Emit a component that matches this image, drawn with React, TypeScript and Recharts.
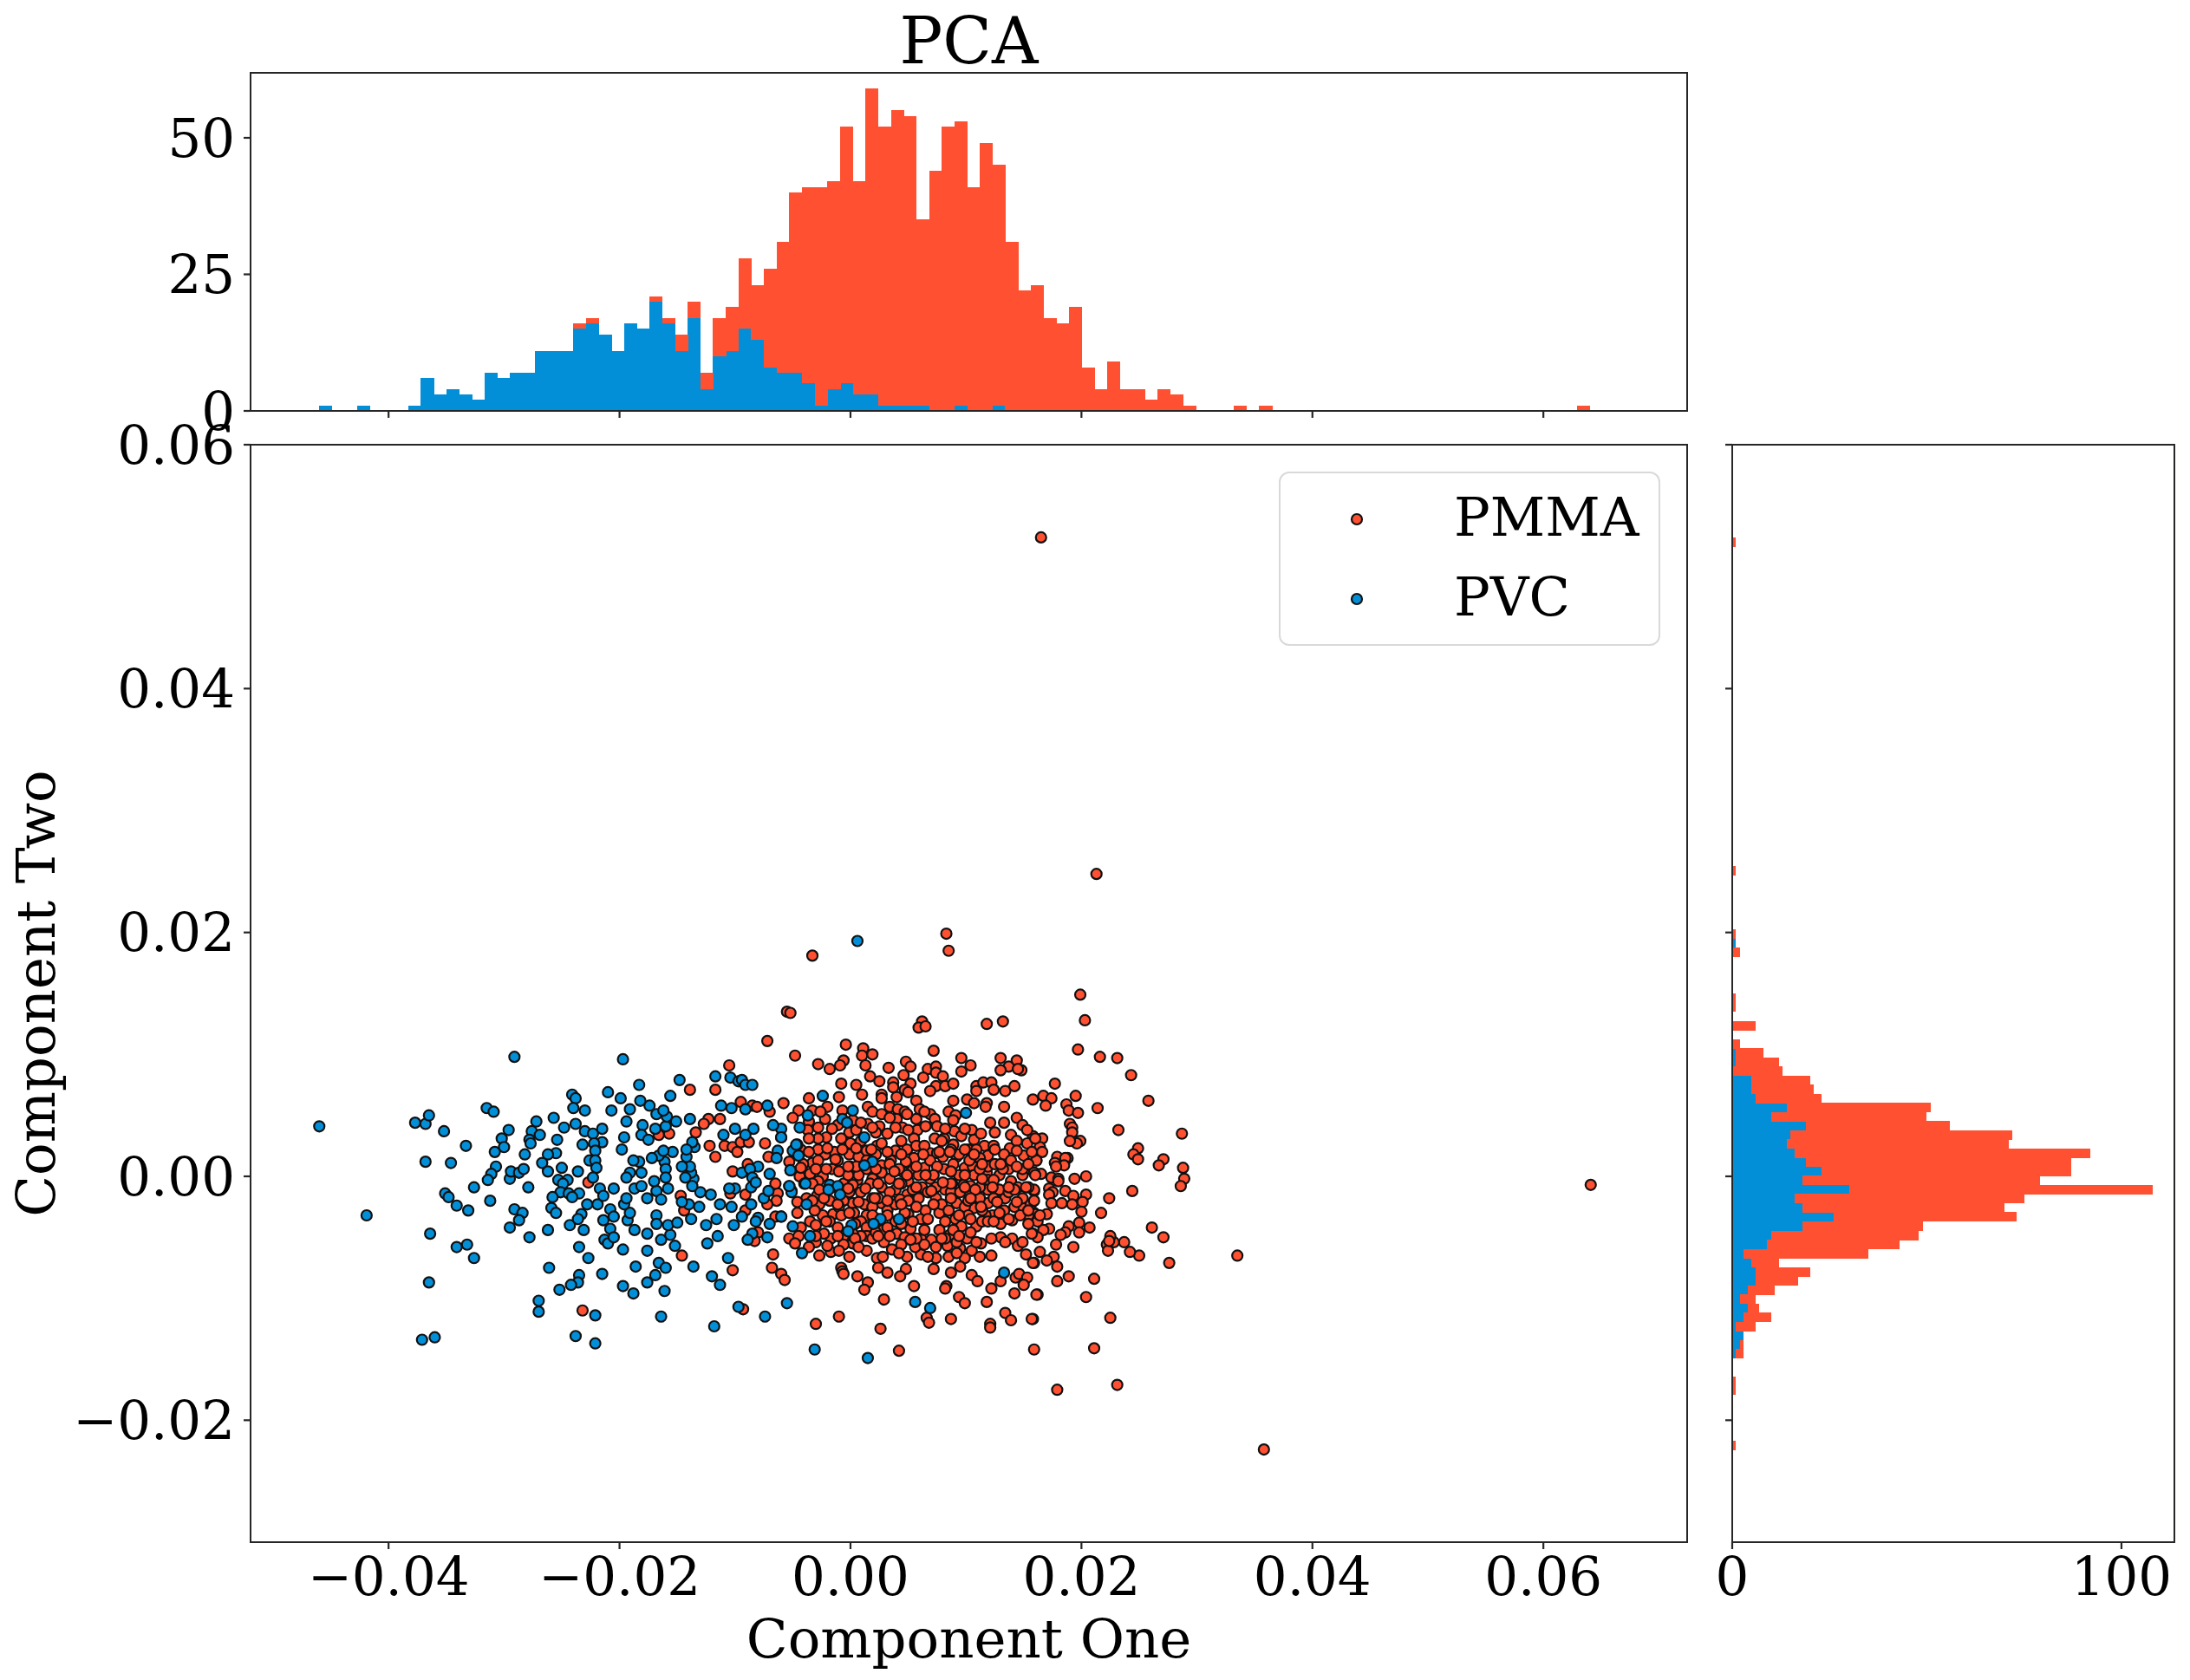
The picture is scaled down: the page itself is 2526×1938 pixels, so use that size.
import { BarChart, Bar, ScatterChart, Scatter, XAxis, YAxis } from 'recharts';

const PMMA_COLOR = '#FF5131';
const PVC_COLOR = '#038FD8';
const SPINE = '#262626';
const FONT = '"DejaVu Serif", serif';
const PAGE_W = 2526;
const PAGE_H = 1938;

const xTicks = [-0.04, -0.02, 0, 0.02, 0.04, 0.06];
const yTicks = [-0.02, 0, 0.02, 0.04, 0.06];
const topCountTicks = [0, 25, 50];
const sideCountTicks = [0, 100];
const xDomain = [-0.05195, 0.07245];
const yDomain = [-0.03, 0.06];

// component one histogram, non-empty bins only
const topCenters = [-0.04545, -0.04215, -0.03775, -0.03665, -0.03555, -0.03445, -0.03335, -0.03225, -0.03115, -0.03005, -0.02895, -0.02785, -0.02675, -0.02565, -0.02455, -0.02345, -0.02235, -0.02125, -0.02015, -0.01905, -0.01795, -0.01685, -0.01575, -0.01465, -0.01355, -0.01245, -0.01135, -0.01025, -0.00915, -0.00805, -0.00695, -0.00585, -0.00475, -0.00365, -0.00255, -0.00145, -0.00035, 0.00075, 0.00185, 0.00295, 0.00405, 0.00515, 0.00625, 0.00735, 0.00845, 0.00955, 0.01065, 0.01175, 0.01285, 0.01395, 0.01505, 0.01615, 0.01725, 0.01835, 0.01945, 0.02055, 0.02165, 0.02275, 0.02385, 0.02495, 0.02605, 0.02715, 0.02825, 0.02935, 0.03375, 0.03595, 0.06345];
const topPvc = [1, 1, 1, 6, 3, 4, 3, 2, 7, 6, 7, 7, 11, 11, 11, 15, 16, 14, 11, 16, 15, 20, 16, 11, 17, 4, 10, 11, 15, 13, 8, 7, 7, 5, 1, 4, 5, 3, 3, 1, 1, 1, 1, 0, 0, 1, 0, 0, 1, 0, 0, 0, 0, 0, 0, 0, 0, 0, 0, 0, 0, 0, 0, 0, 0, 0, 0];
const topPmma = [0, 0, 0, 0, 0, 0, 0, 0, 0, 0, 0, 0, 0, 0, 0, 1, 1, 0, 0, 0, 0, 1, 1, 3, 3, 3, 7, 8, 13, 10, 18, 24, 33, 36, 40, 38, 47, 39, 56, 51, 54, 53, 34, 44, 52, 52, 41, 49, 44, 31, 22, 23, 17, 16, 19, 8, 4, 9, 4, 4, 2, 4, 3, 1, 1, 1, 1];

// component two histogram, non-empty bins only
const sideCenters = [0.05203, 0.025102, 0.019866, 0.019118, 0.01837, 0.01463, 0.013882, 0.012386, 0.01089, 0.010142, 0.009394, 0.008646, 0.007898, 0.00715, 0.006402, 0.005654, 0.004906, 0.004158, 0.00341, 0.002662, 0.001914, 0.001166, 0.000418, -0.00033, -0.001078, -0.001826, -0.002574, -0.003322, -0.00407, -0.004818, -0.005566, -0.006314, -0.007062, -0.00781, -0.008558, -0.009306, -0.010054, -0.010802, -0.01155, -0.012298, -0.013046, -0.013794, -0.014542, -0.016786, -0.017534, -0.022022];
const sidePvc = [0, 0, 0, 1, 0, 0, 0, 0, 0, 1, 1, 0, 5, 5, 6, 14, 10, 19, 15, 14, 16, 19, 23, 18, 30, 16, 18, 26, 18, 10, 9, 3, 5, 6, 6, 4, 2, 4, 3, 1, 3, 2, 1, 0, 0, 0];
const sidePmma = [1, 1, 1, 0, 2, 1, 1, 6, 2, 7, 11, 13, 15, 16, 17, 37, 40, 37, 57, 57, 76, 68, 64, 61, 78, 59, 52, 47, 31, 38, 34, 32, 7, 14, 11, 7, 4, 3, 7, 5, 0, 1, 2, 1, 1, 1];

const pmmaPoints = [
  [0.0165, 0.0524], [0.0213, 0.0248], [0.0083, 0.0199], [0.0085, 0.0185], [-0.0033, 0.0181], [-0.0055, 0.0135], [0.0199, 0.0149], [0.0358, -0.0224], [0.0641, -0.0007],
  [0.0179, -0.0175], [0.0231, -0.0171], [0.0159, -0.0142], [0.0211, -0.0141], [0.0042, -0.0143],
  [0.0203, 0.0128], [0.0197, 0.0104], [0.0216, 0.0098], [0.0231, 0.0097], [0.0243, 0.0083], [0.0258, 0.0062], [0.0177, 0.0076], [0.0167, 0.0066], [0.0174, 0.0064], [0.0158, 0.0063], [0.0169, 0.0058], [0.0195, 0.0066], [0.0187, 0.0059], [0.0189, 0.0054], [0.0197, 0.0052], [0.0214, 0.0056],
  [0.019, 0.0043], [0.0192, 0.004], [0.0192, 0.0036], [0.0199, 0.0029], [0.0196, 0.0027], [0.019, 0.0029], [0.0232, 0.0038], [0.0287, 0.0035], [0.0249, 0.0023], [0.0245, 0.0018], [0.0249, 0.0014], [0.0271, 0.0014], [0.0267, 0.0009], [0.0288, 0.0007], [0.0289, -0.0002], [0.0286, -0.0008], [0.0244, -0.0012], [0.0224, -0.0018], [0.0217, -0.003], [0.0261, -0.0042], [0.0271, -0.005], [0.0276, -0.0071], [0.025, -0.0065], [0.0242, -0.0062], [0.0237, -0.0054], [0.0228, -0.0054], [0.0225, -0.0049], [0.0222, -0.0056], [0.0223, -0.0061], [0.0224, -0.0053], [0.0335, -0.0065], [0.0211, -0.0084], [0.0204, -0.0099], [0.0225, -0.0116], [0.0189, -0.0082], [0.0179, -0.0086], [0.0162, -0.0097], [0.0158, -0.0117],
  [0.0166, 0.0031], [0.0158, 0.0033], [0.0164, 0.0024], [0.0166, 0.002], [0.0161, 0.0013], [0.0179, 0.0016], [0.0188, 0.0015], [0.0186, 0.0015], [0.0177, 0.0011], [0.0185, 0.0009], [0.0178, 0.0008], [0.0159, 0.0003], [0.0165, 0.0002], [0.0174, -0.0001], [0.018, -0.0002], [0.018, -0.0004], [0.0194, -0.0002], [0.0204, 0], [0.0159, -0.0012], [0.0172, -0.001], [0.0175, -0.0013], [0.0172, -0.0015], [0.0186, -0.0012], [0.0193, -0.0016], [0.0204, -0.0015], [0.0174, -0.0022], [0.0183, -0.0022], [0.0192, -0.0023], [0.0201, -0.0021], [0.02, -0.0029], [0.017, -0.0031], [0.0162, -0.0034], [0.0159, -0.003], [0.0198, -0.0038], [0.0189, -0.0041], [0.0207, -0.0042], [0.0198, -0.0046], [0.0186, -0.0046], [0.0182, -0.0048], [0.0172, -0.0043], [0.0167, -0.0044], [0.0158, -0.0047], [0.0162, -0.005], [0.0178, -0.0056], [0.0193, -0.0058], [0.0164, -0.0062], [0.0176, -0.0066], [0.017, -0.0069], [0.0159, -0.0071], [0.0179, -0.0074],
  [-0.0052, 0.0134], [0.0062, 0.0127], [0.0059, 0.0122], [0.0065, 0.0123], [0.0118, 0.0125], [0.0132, 0.0127], [-0.0004, 0.0108], [0.0011, 0.0105], [0.001, 0.0099], [0.0019, 0.01], [0.0072, 0.0103], [-0.0048, 0.0099], [-0.0028, 0.0092], [-0.0018, 0.0088], [-0.0006, 0.0095], [-0.0009, 0.0091], [0.0013, 0.0091], [0.0017, 0.0082], [0.0025, 0.0078], [0.0033, 0.0089], [0.0048, 0.0094], [0.0052, 0.009], [0.0046, 0.0083], [0.0037, 0.0077], [0.0037, 0.0073], [0.0052, 0.0076], [0.0047, 0.0071], [0.005, 0.0069], [0.004, 0.0065], [0.0067, 0.0088], [0.0074, 0.009], [0.0074, 0.0085], [0.0063, 0.0081], [0.008, 0.0082], [0.0074, 0.0074], [0.0069, 0.007], [0.0082, 0.0074], [0.0089, 0.0076], [0.0096, 0.0097], [0.0104, 0.0091], [0.0096, 0.0086], [0.013, 0.0097], [0.0144, 0.0095], [0.0137, 0.009], [0.013, 0.0087], [0.0148, 0.0087], [0.0145, 0.0088],
  [-0.0008, 0.0076], [0.0005, 0.0075], [0.001, 0.0067], [0.0027, 0.0067], [0.0027, 0.0064], [-0.0036, 0.0064], [-0.001, 0.0065], [-0.0058, 0.006], [0.0057, 0.0062], [0.0109, 0.0074], [0.0109, 0.007], [0.0115, 0.0077], [0.0122, 0.0077], [0.0124, 0.0071], [0.0134, 0.007], [0.0142, 0.0074], [0.0089, 0.0062], [0.0101, 0.0063], [0.0107, 0.006], [0.0118, 0.006], [0.0117, 0.0057], [0.0133, 0.0057], [0.0015, 0.0057], [0.0019, 0.0053], [0.0034, 0.0057], [0.0041, 0.0055], [0.0047, 0.0053], [0.006, 0.0055], [0.0057, 0.0047], [0.004, 0.0047], [0.0027, 0.0051], [0.0069, 0.0051], [0.0073, 0.0047], [0.0075, 0.0041], [0.0085, 0.0053], [0.0091, 0.005], [0.0089, 0.0046],
  [-0.002, 0.0057], [-0.0007, 0.0054], [-0.0045, 0.0054], [-0.0033, 0.0054], [-0.005, 0.0048], [-0.0022, 0.0047], [-0.0036, 0.0045], [-0.0011, 0.0042], [0.0015, 0.0043], [0.0025, 0.0041], [0.0045, 0.004], [0.0058, 0.0038], [0.0032, 0.0035], [-0.0001, 0.0036], [-0.0037, 0.0038], [-0.0021, 0.0032], [-0.0028, 0.0031], [-0.0036, 0.0031], [-0.0008, 0.0031], [0, 0.0027], [0.0023, 0.0025], [0.0044, 0.0029], [0.0055, 0.0031], [0.0073, 0.0031], [0.0081, 0.0031], [0.009, 0.0037], [0.0096, 0.0033], [0.0105, 0.0038], [0.0107, 0.003], [0.0121, 0.0044], [0.0125, 0.0036], [0.0133, 0.0044], [0.0144, 0.0048], [0.0149, 0.0042], [0.0153, 0.0038], [0.0153, 0.0027], [0.016, 0.0031],
  [0.0089, 0.0026], [0.0102, 0.0022], [0.0116, 0.0025], [0.0124, 0.0025], [0.0138, 0.0023], [0.0133, 0.0018], [0.015, 0.0017], [0.0161, 0.0013], [0.0119, 0.0017], [0.0092, 0.0016], [0.0069, 0.0019], [0.0075, 0.0019], [0.008, 0.0016], [0.0049, 0.0022], [0.0039, 0.0021], [0.0055, 0.0015], [0.0048, 0.0012], [0.0035, 0.0013], [0.0027, 0.0009], [-0.0001, 0.0018], [-0.0014, 0.002], [-0.0022, 0.0018], [-0.0033, 0.0011], [-0.0011, 0.0013], [0, 0.0008], [-0.0016, 0.0006], [-0.0035, 0.0002], [-0.0024, 0], [-0.0053, 0.0012], [-0.0044, 0],
  [0.0006, -0.0003], [0.0019, -0.0002], [0.0027, 0.0003], [0.0034, -0.0002], [0.0045, 0.0004], [0.0054, 0.0005], [0.0064, 0.0007], [0.0081, 0.0006], [0.0069, -0.0002], [0.005, -0.0004], [0.0027, -0.0009], [0.0009, -0.0013], [-0.0001, -0.0013], [-0.0029, -0.0016], [-0.0018, -0.002], [-0.0038, -0.0018], [0.0002, -0.0022], [0.0012, -0.0023], [0.0027, -0.0022], [0.0035, -0.002], [0.0049, -0.0015], [0.0039, -0.0011], [0.0058, -0.0017], [0.0062, -0.0009], [0.0074, -0.0018], [0.0082, -0.0011], [0.0088, -0.0006], [0.0091, -0.0015], [0.0092, -0.0022], [0.0098, -0.0007], [0.0104, -0.0008], [0.0099, 0.0007], [0.0106, 0.0008], [0.0118, 0.0003], [0.0119, -0.0003], [0.0129, 0.0001], [0.0137, 0.0006], [0.0139, -0.0004], [0.0145, -0.0009], [0.0149, 0.0001], [0.0159, 0.0003], [0.0159, -0.0011], [0.0119, -0.0011], [0.0127, -0.0011], [0.013, -0.0017], [0.0119, -0.0022], [0.0107, -0.0026], [0.0099, -0.0025], [0.0142, -0.0025], [0.015, -0.0026], [0.0156, -0.0023], [0.016, -0.0031], [0.0133, -0.0028], [0.0123, -0.0032], [0.0117, -0.0032], [0.014, -0.0036], [0.0091, -0.0035], [0.0096, -0.0041], [0.0077, -0.003], [0.0061, -0.0035], [0.005, -0.0031], [0.0032, -0.0028], [0.0014, -0.0032], [-0.0015, -0.0031], [-0.0024, -0.0032], [-0.0046, -0.003], [-0.0035, -0.0037], [-0.003, -0.004], [-0.0043, -0.0042], [-0.0018, -0.0037], [0.0009, -0.0037], [0.0014, -0.0042], [0.0028, -0.0044], [0.0052, -0.0043], [0.004, -0.0047], [0.0047, -0.005], [0.0061, -0.0051], [0.007, -0.0052], [0.0086, -0.0048], [0.0101, -0.0051], [0.0109, -0.0041], [0.0114, -0.0037], [0.013, -0.0039], [0.013, -0.005], [0.014, -0.0051], [0.0157, -0.0047], [0.0162, -0.0037], [0.0145, -0.0057], [0.0152, -0.0064], [0.0158, -0.0071], [0.0122, -0.0065], [0.0113, -0.0055], [0.0105, -0.0061], [0.0095, -0.0059], [0.0099, -0.0067], [0.0095, -0.0074], [0.0087, -0.0079], [0.0084, -0.0057], [0.0085, -0.0066], [0.0074, -0.0067], [0.0072, -0.0076], [0.0061, -0.0064], [0.0056, -0.0058], [0.0049, -0.0066], [0.0036, -0.006], [0.0023, -0.0067], [0.0014, -0.0061], [0.0002, -0.0055], [-0.0001, -0.0066], [0.0014, -0.0049], [-0.0006, -0.0049], [-0.0017, -0.0051], [-0.0017, -0.0062], [-0.002, -0.0057], [-0.0027, -0.0065], [-0.003, -0.0054], [-0.0053, -0.0051], [-0.0045, -0.0049], [-0.0048, -0.0055], [-0.0036, -0.0058],
  [0.0024, -0.0075], [0.0032, -0.0079], [0.0048, -0.0076], [0.0043, -0.0082], [-0.0008, -0.0075], [-0.0007, -0.0078], [-0.0006, -0.008], [0.0006, -0.0082], [0.0015, -0.0087], [0.0012, -0.0093], [0.0055, -0.009], [0.0029, -0.0101], [-0.006, -0.008], [-0.0057, -0.0085], [0.0105, -0.0081], [0.011, -0.0086], [0.0122, -0.0092], [0.013, -0.0086], [0.0143, -0.0083], [0.0146, -0.008], [0.0153, -0.0083], [0.015, -0.0089], [0.0142, -0.0096], [0.0161, -0.0097], [0.0083, -0.009], [0.0082, -0.0092], [0.0094, -0.0099], [0.0099, -0.0104], [0.0118, -0.0103], [-0.001, -0.0115], [-0.003, -0.0121], [0.0026, -0.0125], [0.0066, -0.0116], [0.0068, -0.012], [0.0087, -0.0117], [0.0121, -0.0121], [0.0121, -0.0124], [0.0134, -0.0112], [0.0139, -0.0118], [0.0157, -0.0117],
  [0.0022, 0.0018], [0.0014, 0.0021], [0.0007, 0.0016], [-0.0013, 0.0014], [0.0014, 0.0006], [0.0007, 0.0001], [-0.0006, -0.0006], [0.0002, -0.0007], [0.0017, -0.0006], [0.0034, -0.0013], [0.0044, -0.0006], [0.0019, -0.0018], [-0.0006, -0.002], [0.0024, -0.0018], [0.0039, -0.0023], [0.0059, -0.0018], [0.0074, -0.0009], [0.0087, -0.0013], [0.0079, -0.0023], [0.0102, -0.0013], [0.0112, -0.0009], [0.0112, -0.0018], [0.0119, 0.0008], [0.0112, 0.0015], [0.0094, 0.0001], [0.0067, -0.0013], [0.0054, -0.0011], [0.0047, -0.003], [0.0039, -0.0037], [0.0024, -0.0035], [0.0004, -0.0039], [-0.0016, -0.0009], [-0.0028, -0.0004], [-0.0043, 0.0022], [-0.0028, 0.0022], [-0.0041, 0.001], [-0.0028, 0.0013], [0.0089, 0.001], [0.0077, 0.002], [0.0057, 0.0025], [0.0027, 0.0027], [0.0009, 0.0029], [0.0039, 0.004], [0.0022, 0.0036], [0.0064, 0.0025], [0.0079, 0.0029], [0.0094, 0.0018], [0.0109, 0.0022], [0.0139, 0.0013], [0.0149, 0.0006], [0.0154, 0.001], [0.0129, -0.0011], [0.0134, -0.0018], [0.0149, -0.0018], [0.0154, -0.0032], [0.0147, -0.0032], [0.0129, -0.003], [0.0114, -0.0028], [0.0102, -0.0032], [0.0082, -0.0037], [0.0089, -0.0044], [0.0082, -0.0051], [0.0074, -0.0058], [0.0064, -0.0056], [0.0057, -0.0051], [0.0044, -0.0056], [0.0029, -0.0054], [0.0019, -0.0051], [0.0009, -0.0049], [0.0002, -0.0047], [-0.0006, -0.0056], [-0.0023, -0.0047],
  [0.0069, 0.0013], [0.0075, 0.0008], [0.0087, 0.0022], [0.0103, 0.0013], [0.0107, 0.0001], [0.0114, -0.0002], [0.0125, 0.001], [0.0132, 0.0006], [0.0124, -0.0003], [0.0112, 0.0006], [0.0095, -0.0013], [0.0087, -0.0006], [0.0072, 0.0001], [0.0059, 0.0001], [0.0042, 0.0006], [0.0034, 0.001], [0.0014, 0.0013], [0.0005, 0.0008], [-0.0002, 0.0001], [-0.001, 0.0004], [-0.0021, 0.0006], [-0.0033, -0.0006], [-0.0027, -0.0023], [-0.0031, -0.0028], [-0.001, -0.0025], [0.0003, -0.003], [0.0019, -0.0025], [0.0032, -0.002], [0.0043, -0.0019], [0.005, -0.002], [0.0065, -0.0028], [0.0085, -0.0028], [0.0102, -0.002], [0.0124, -0.0018], [0.0137, -0.0013], [0.0142, -0.0011], [0.0154, -0.0009], [0.0159, -0.002], [0.0164, -0.0032], [0.0119, -0.0037], [0.0104, -0.0046], [0.0092, -0.0054], [0.0077, -0.0044], [0.0064, -0.0044], [0.0044, -0.0039], [0.0032, -0.0042], [0.0022, -0.0046], [0.0004, -0.0051], [-0.0011, -0.0042], [-0.0021, -0.0037], [-0.0033, -0.002],
  [-0.0028, 0.004], [-0.0016, 0.0039], [0.0005, 0.0038], [0.0019, 0.004], [0.005, 0.0038], [0.0065, 0.0041], [0.0082, 0.0039], [0.0099, 0.0039], [0.0113, 0.0035], [0.0139, 0.0034], [0.0144, 0.0029], [-0.0036, 0.002], [-0.002, 0.0023], [-0.0007, 0.0022], [0.0005, 0.0023], [0.0018, 0.0022], [0.0032, 0.002], [0.0044, 0.0018], [0.0063, 0.0018], [0.0086, 0.002], [0.0099, 0.0022], [0.0107, 0.0018], [0.0125, 0.0022], [0.0144, 0.0021], [0.0157, 0.002],
  [-0.0043, 0.0007], [-0.003, 0.0006], [-0.0002, 0.0008], [0.0022, 0.0006], [0.0038, 0.0004], [0.0049, 0.0001], [0.0057, 0.0008], [0.0065, 0.0001], [0.0087, 0.0004], [0.0099, 0.0001], [0.0114, 0.001], [0.013, 0.001], [0.0144, 0.0008], [0.016, 0.0001], [-0.0027, -0.0011], [-0.0002, -0.001], [0.0013, -0.001], [0.0024, -0.0006], [0.0042, -0.0006], [0.0057, -0.0009], [0.007, -0.0012], [0.008, -0.0005], [0.0099, -0.0009], [0.0108, -0.0011], [0.0123, -0.0009], [0.0137, -0.0009], [0.0152, -0.0009],
  [-0.0046, -0.0021], [-0.0023, -0.0018], [-0.0011, -0.0023], [0.0007, -0.0021], [0.0021, -0.0018], [0.0044, -0.0023], [0.0057, -0.0025], [0.0072, -0.0023], [0.0087, -0.0018], [0.0104, -0.0018], [0.0113, -0.0025], [0.0127, -0.0021], [0.0144, -0.0021], [0.0154, -0.0028], [-0.0008, -0.0032], [-0.0001, -0.003], [0.0019, -0.0032], [0.0032, -0.0032], [0.0054, -0.0037], [0.0067, -0.0035], [0.0094, -0.0032], [0.0104, -0.0035], [0.0124, -0.0037], [0.0137, -0.0035], [0.0154, -0.0039],
  [-0.003, -0.0049], [-0.0011, -0.0049], [0.0024, -0.0049], [0.0034, -0.0049], [0.0052, -0.0052], [0.0079, -0.0051], [0.0094, -0.0049], [0.0109, -0.0054], [0.0122, -0.0051], [0.0134, -0.0054], [0.0149, -0.0054], [-0.001, -0.0061], [0.0007, -0.0058], [0.0028, -0.0066], [0.0042, -0.0063], [0.0067, -0.0066], [0.0092, -0.0063], [0.0112, -0.0066], [-0.0026, 0.0053], [0.0002, 0.0046], [0.0009, 0.0044], [0.0034, 0.0048], [0.0049, 0.0051], [0.0064, 0.0053],
  [-0.0072, 0.0111], [-0.0105, 0.0091], [-0.0139, 0.0071], [-0.0117, 0.0071], [-0.0095, 0.0061], [-0.0085, 0.0058], [-0.0081, 0.0057], [-0.007, 0.0053], [-0.0113, 0.0047], [-0.0123, 0.0047], [-0.0127, 0.0043], [-0.0134, 0.0036], [-0.0157, 0.0035], [-0.0166, 0.0034], [-0.0122, 0.0025], [-0.0109, 0.0025], [-0.0102, 0.0024], [-0.0098, 0.002], [-0.0117, 0.0016], [-0.0095, 0.0028], [-0.0088, 0.0028], [-0.0074, 0.0027], [-0.0071, 0.0016], [-0.0089, 0.001], [-0.0102, 0.0004], [-0.0227, -0.0005], [-0.0147, -0.0016], [-0.0144, -0.0028], [-0.0146, -0.0065], [-0.0104, -0.0014], [-0.0091, -0.0015], [-0.0063, -0.0014], [-0.0065, -0.0006], [-0.0064, -0.002], [-0.0072, -0.0023], [-0.0091, -0.0028], [-0.0065, -0.0033], [-0.008, -0.0046], [-0.0083, -0.0053], [-0.0067, -0.0064], [-0.0068, -0.0075], [-0.0102, -0.0077], [-0.0232, -0.011], [-0.0093, -0.0109],
];

const pvcPoints = [
  [-0.0024, 0.0066], [-0.0037, 0.005], [0.0002, 0.0054], [-0.0007, 0.0047], [-0.0003, 0.0044], [-0.0044, 0.004], [-0.006, 0.0039], [-0.006, 0.0032], [0.0012, 0.0032], [-0.0046, 0.0026], [-0.005, 0.0021], [-0.0045, 0.0017], [0.01, 0.0052], [0.0019, 0.0012], [0.0012, 0.0009], [-0.0052, 0.0005], [-0.004, -0.0006], [-0.0053, -0.0008], [-0.0051, -0.0012], [-0.0018, -0.0007], [-0.0011, -0.0008], [-0.0019, -0.0011], [-0.0009, -0.0015], [-0.0038, -0.0023], [-0.006, -0.0033], [0.0042, -0.0035], [0.0026, -0.0035], [0.002, -0.0039], [0.0001, -0.004], [-0.0002, -0.0045], [-0.005, -0.0041], [-0.0035, -0.0049], [-0.0042, -0.0063], [-0.0055, -0.0104], [0.0056, -0.0103], [0.0069, -0.0108], [0.0133, -0.0079], [-0.0031, -0.0142], [0.0015, -0.0149], [0.0006, 0.0193],
  [-0.046, 0.0041], [-0.0419, -0.0032], [-0.0377, 0.0044], [-0.0368, 0.0043], [-0.0365, 0.005], [-0.0352, 0.0037], [-0.0333, 0.0025], [-0.0368, 0.0012], [-0.0346, 0.0011], [-0.0364, -0.0047], [-0.0365, -0.0087], [-0.0371, -0.0134], [-0.036, -0.0132], [-0.0341, -0.0058], [-0.0332, -0.0056], [-0.0326, -0.0067], [-0.0351, -0.0014], [-0.0348, -0.0017], [-0.0341, -0.0024], [-0.0331, -0.0028], [-0.0326, -0.0009], [-0.0312, -0.002], [-0.0315, 0.0056], [-0.0309, 0.0053], [-0.0291, 0.0098], [-0.0197, 0.0096],
  [-0.0296, 0.0038], [-0.0302, 0.0031], [-0.03, 0.0024], [-0.0308, 0.002], [-0.0282, 0.0018], [-0.0307, 0.0008], [-0.0311, 0.0002], [-0.0314, -0.0003], [-0.0295, -0.0002], [-0.0294, 0.0004], [-0.0287, 0.0003], [-0.0283, 0.0006], [-0.0279, -0.0009], [-0.0291, -0.0027], [-0.0284, -0.003], [-0.0287, -0.0036], [-0.0295, -0.0042], [-0.0278, -0.005], [-0.0262, -0.0044], [-0.0243, -0.004], [-0.0231, -0.0044], [-0.0235, -0.0058], [-0.0227, -0.0067], [-0.0261, -0.0075], [-0.0235, -0.0081], [-0.0236, -0.0087], [-0.0242, -0.0089], [-0.0252, -0.0093], [-0.0215, -0.008], [-0.0197, -0.009], [-0.0188, -0.0096], [-0.0186, -0.0074], [-0.0176, -0.0087], [-0.0169, -0.0081], [-0.0166, -0.0071], [-0.016, -0.0075], [-0.0161, -0.0094], [-0.0136, -0.0074], [-0.012, -0.0082], [-0.0113, -0.0089], [-0.0106, -0.0067], [-0.027, -0.0102], [-0.027, -0.0111], [-0.0221, -0.0114], [-0.0238, -0.0131], [-0.0221, -0.0137], [-0.0164, -0.0115], [-0.0118, -0.0123], [-0.0097, -0.0107], [-0.0074, -0.0115],
  [-0.0272, 0.0045], [-0.0257, 0.0048], [-0.0248, 0.004], [-0.0238, 0.0043], [-0.023, 0.0037], [-0.0223, 0.0035], [-0.0215, 0.0039], [-0.0215, 0.0028], [-0.0222, 0.0027], [-0.0232, 0.0026], [-0.0254, 0.003], [-0.0276, 0.0037], [-0.0269, 0.0034], [-0.0278, 0.003], [-0.0277, 0.0027], [-0.0255, 0.0019], [-0.0262, 0.0018], [-0.0267, 0.0011], [-0.0262, 0.0004], [-0.025, 0.0007], [-0.0236, 0.0004], [-0.0221, 0.0021], [-0.0226, 0.0013], [-0.0221, 0.0013], [-0.022, 0.0007], [-0.0223, -0.0001], [-0.0253, -0.0003], [-0.0245, -0.0003], [-0.0249, -0.0006], [-0.0251, -0.0013], [-0.0258, -0.0017], [-0.0244, -0.0014], [-0.0235, -0.0014], [-0.0241, -0.0017], [-0.0259, -0.0026], [-0.0255, -0.003], [-0.0228, -0.0023], [-0.0219, -0.0023], [-0.0217, -0.001], [-0.0205, -0.001], [-0.0214, -0.0016], [-0.0233, -0.0031], [-0.0236, -0.0035], [-0.0214, -0.0036], [-0.0208, -0.0027], [-0.0205, -0.0033], [-0.0208, -0.0043], [-0.0213, -0.0052], [-0.021, -0.0055], [-0.0205, -0.005], [-0.0197, -0.006], [-0.0187, -0.0044], [-0.0193, -0.0036], [-0.0191, -0.003], [-0.0196, -0.0023], [-0.0194, -0.0018], [-0.0187, -0.001], [-0.0181, -0.0008], [-0.0176, -0.0018], [-0.0168, -0.0012], [-0.017, -0.0004], [-0.0158, -0.001], [-0.0164, -0.0019], [-0.0168, -0.0032], [-0.0168, -0.0039], [-0.0176, -0.0047], [-0.0164, -0.0052], [-0.0176, -0.0061], [-0.0152, -0.0057], [-0.0156, -0.0048], [-0.0158, -0.004], [-0.015, -0.0038], [-0.0138, -0.0035], [-0.0125, -0.004], [-0.0116, -0.0035], [-0.0115, -0.0049], [-0.0124, -0.0055], [-0.0094, -0.0033], [-0.0101, -0.004], [-0.008, -0.0034], [-0.0082, -0.0037], [-0.007, -0.0039], [-0.006, -0.0033], [-0.0085, -0.0047], [-0.0089, -0.0052], [-0.0072, -0.005],
  [-0.014, -0.0023], [-0.0146, -0.0021], [-0.0131, -0.0025], [-0.013, -0.0013], [-0.0121, -0.0015], [-0.0113, -0.0023], [-0.0103, -0.0025], [-0.0086, -0.0023], [-0.0075, -0.0018], [-0.0071, -0.0012], [-0.0086, -0.0009], [-0.01, -0.001], [-0.0105, -0.001], [-0.0094, 0.0003], [-0.008, 0.0008], [-0.0087, 0.0006], [-0.0085, -0.0001], [-0.0082, -0.0005], [-0.007, 0.0002], [-0.0136, -0.0002], [-0.0138, 0.0003], [-0.0139, 0.0008], [-0.0146, 0.0008], [-0.0142, 0.0016], [-0.0143, -0.0001], [-0.0137, -0.0008], [-0.0154, 0.002], [-0.0161, 0.0012], [-0.0166, 0.0017], [-0.0172, 0.0015], [-0.0162, 0.0021], [-0.016, 0.0006], [-0.016, -0.0001], [-0.0183, 0.0012], [-0.0188, 0.0013], [-0.0181, 0.0003], [-0.0191, 0.0003], [-0.0194, -0.0001], [-0.0198, 0.0022], [-0.0196, 0.0032], [-0.0194, 0.0045], [-0.018, 0.0042], [-0.0181, 0.0034], [-0.0175, 0.003], [-0.0169, 0.0039], [-0.016, 0.0041], [-0.0159, 0.0049], [-0.0168, 0.0051], [-0.0162, 0.0054], [-0.0151, 0.0045], [-0.0139, 0.0047], [-0.0174, 0.0058], [-0.0182, 0.0062], [-0.0191, 0.0055], [-0.0207, 0.0054], [-0.0199, 0.0064], [-0.021, 0.0069], [-0.0183, 0.0075], [-0.0156, 0.0066], [-0.0148, 0.0079], [-0.0241, 0.0067], [-0.0238, 0.0064], [-0.024, 0.0056], [-0.023, 0.0054], [-0.0117, 0.0082], [-0.0104, 0.0081], [-0.0097, 0.0078], [-0.0094, 0.0079], [-0.0091, 0.0075], [-0.0085, 0.0075], [-0.0112, 0.0058], [-0.0103, 0.0056], [-0.0091, 0.0055], [-0.0072, 0.0058], [-0.01, 0.0039], [-0.0084, 0.0039], [-0.0067, 0.0042], [-0.0091, 0.0034], [-0.011, 0.0034], [-0.006, 0.0032], [-0.0135, 0.0024], [-0.0137, 0.0028], [-0.0142, 0.0022], [-0.0047, 0.0026], [-0.0063, 0.0021], [-0.0064, 0.0015], [-0.0045, 0.0017], [-0.0052, 0.0005], [-0.0039, -0.0006], [-0.0051, -0.0013], [-0.0053, -0.0008],
];

const topBins = topCenters.map((center, i) => ({ center, pvc: topPvc[i], pmma: topPmma[i] }));
const sideBins = sideCenters.map((center, i) => ({ center, pvc: sidePvc[i], pmma: sidePmma[i] }));
const toXY = (points: number[][]) => points.map(([x, y]) => ({ x, y }));

const formatTick = (v: number) => {
  const s = Math.abs(v).toFixed(2);
  return v < 0 ? '\u2212' + s : s;
};
const noLabel = () => '';

const tickStyle = { fontFamily: FONT, fontSize: 61, fill: '#000' };
const labelStyle = { fontFamily: FONT, fontSize: 62.5, fill: '#000', textAnchor: 'middle' as const };
const tickLine = { stroke: SPINE, strokeWidth: 2.2 };

// plot rectangles of the four panels, in page pixels
const TOP = { l: 289, r: 1946, t: 84, b: 474 };
const MAIN = { l: 289, r: 1946, t: 513, b: 1779 };
const SIDE = { l: 1998, r: 2508, t: 513, b: 1779 };

// matplotlib hist bars touch, so stretch each one a little over its neighbour
const TopBin = ({ x, y, width, height, fill }: any) => (
  <rect x={x} y={y} width={width + 0.6} height={height} fill={fill} shapeRendering="crispEdges" />
);
const SideBin = ({ x, y, width, height, fill }: any) => (
  <rect x={x} y={y} width={width} height={height + 0.6} fill={fill} shapeRendering="crispEdges" />
);
const ScatterDot = ({ cx, cy, fill }: any) => <circle cx={cx} cy={cy} r={6} fill={fill} stroke="#111" strokeWidth={2.2} />;

function Frame({ box }: { box: { l: number; r: number; t: number; b: number } }) {
  return (
    <div
      style={{
        position: 'absolute',
        boxSizing: 'border-box',
        left: box.l - 1.25,
        top: box.t - 1.25,
        width: box.r - box.l + 2.5,
        height: box.b - box.t + 2.5,
        border: `2.5px solid ${SPINE}`,
        pointerEvents: 'none',
      }}
    />
  );
}

function PageLayer({ children }: { children: React.ReactNode }) {
  return <div style={{ position: 'absolute', left: 0, top: 0 }}>{children}</div>;
}

function TopHistogram() {
  return (
    <PageLayer>
      <BarChart
        width={PAGE_W}
        height={PAGE_H}
        data={topBins}
        barSize={14.6}
        margin={{ left: TOP.l - 200, right: PAGE_W - TOP.r, top: TOP.t, bottom: PAGE_H - TOP.b - 20 }}
      >
        <XAxis dataKey="center" type="number" scale="linear" domain={xDomain} ticks={xTicks} allowDataOverflow height={20} axisLine={false} tickLine={tickLine} tickSize={8} tickFormatter={noLabel} />
        <YAxis type="number" domain={[0, 61.9]} ticks={topCountTicks} allowDataOverflow width={200} axisLine={false} tickLine={tickLine} tickSize={8} tickMargin={10} tick={tickStyle} />
        <Bar dataKey="pvc" stackId="a" fill={PVC_COLOR} shape={<TopBin />} isAnimationActive={false} />
        <Bar dataKey="pmma" stackId="a" fill={PMMA_COLOR} shape={<TopBin />} isAnimationActive={false} />
      </BarChart>
    </PageLayer>
  );
}

function MainScatter() {
  return (
    <PageLayer>
      <ScatterChart
        width={PAGE_W}
        height={PAGE_H}
        margin={{ left: MAIN.l - 280, right: PAGE_W - MAIN.r, top: MAIN.t, bottom: PAGE_H - MAIN.b - 150 }}
      >
        <XAxis
          dataKey="x"
          type="number"
          domain={xDomain}
          ticks={xTicks}
          allowDataOverflow
          height={150}
          axisLine={false}
          tickLine={tickLine}
          tickSize={8}
          tickMargin={10}
          tick={tickStyle}
          tickFormatter={formatTick}
          label={{ value: 'Component One', position: 'insideBottom', offset: 17, style: labelStyle }}
        />
        <YAxis
          dataKey="y"
          type="number"
          domain={yDomain}
          ticks={yTicks}
          allowDataOverflow
          width={280}
          axisLine={false}
          tickLine={tickLine}
          tickSize={8}
          tickMargin={10}
          tick={tickStyle}
          tickFormatter={formatTick}
          label={{ value: 'Component Two', angle: -90, position: 'insideLeft', offset: 32, style: labelStyle }}
        />
        <Scatter name="PMMA" data={toXY(pmmaPoints)} fill={PMMA_COLOR} shape={<ScatterDot />} isAnimationActive={false} />
        <Scatter name="PVC" data={toXY(pvcPoints)} fill={PVC_COLOR} shape={<ScatterDot />} isAnimationActive={false} />
      </ScatterChart>
    </PageLayer>
  );
}

function SideHistogram() {
  return (
    <PageLayer>
      <BarChart
        width={PAGE_W}
        height={PAGE_H}
        layout="vertical"
        data={sideBins}
        barSize={10.4}
        margin={{ left: SIDE.l - 20, right: PAGE_W - SIDE.r, top: SIDE.t, bottom: PAGE_H - SIDE.b - 100 }}
      >
        <XAxis type="number" domain={[0, 113.6]} ticks={sideCountTicks} allowDataOverflow height={100} axisLine={false} tickLine={tickLine} tickSize={8} tickMargin={10} tick={tickStyle} />
        <YAxis dataKey="center" type="number" scale="linear" reversed domain={yDomain} ticks={yTicks} allowDataOverflow width={20} axisLine={false} tickLine={tickLine} tickSize={8} tickFormatter={noLabel} />
        <Bar dataKey="pvc" stackId="a" fill={PVC_COLOR} shape={<SideBin />} isAnimationActive={false} />
        <Bar dataKey="pmma" stackId="a" fill={PMMA_COLOR} shape={<SideBin />} isAnimationActive={false} />
      </BarChart>
    </PageLayer>
  );
}

function LegendBox() {
  const rows = [
    { name: 'PMMA', color: PMMA_COLOR, top: 32 },
    { name: 'PVC', color: PVC_COLOR, top: 124 },
  ];
  return (
    <div
      style={{
        position: 'absolute',
        boxSizing: 'border-box',
        left: 1475,
        top: 544,
        width: 440,
        height: 201,
        border: '2.5px solid #d9d9d9',
        borderRadius: 12,
        background: '#fff',
        fontFamily: FONT,
        fontSize: 62,
        lineHeight: '74px',
      }}
    >
      {rows.map((row) => (
        <div key={row.name} style={{ position: 'absolute', left: 0, top: row.top, width: '100%', height: 74 }}>
          <svg width={20} height={20} style={{ position: 'absolute', left: 78, top: 11 }}>
            <circle cx={10} cy={10} r={6} fill={row.color} stroke="#111" strokeWidth={2.2} />
          </svg>
          <span style={{ position: 'absolute', left: 200, top: -18 }}>{row.name}</span>
        </div>
      ))}
    </div>
  );
}

export default function App() {
  return (
    <div style={{ position: 'absolute', left: 0, top: 0, width: PAGE_W, height: PAGE_H, background: '#fff', overflow: 'hidden' }}>
      <TopHistogram />
      <MainScatter />
      <SideHistogram />
      <Frame box={TOP} />
      <Frame box={MAIN} />
      <Frame box={SIDE} />
      <LegendBox />
      <div style={{ position: 'absolute', left: TOP.l, width: TOP.r - TOP.l, top: 0, textAlign: 'center', fontFamily: FONT, fontSize: 74, lineHeight: '94px' }}>PCA</div>
    </div>
  );
}
